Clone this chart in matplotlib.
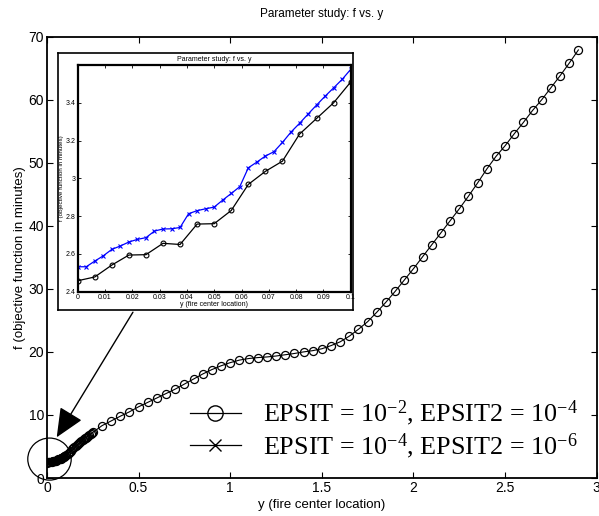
import numpy as np
import matplotlib
matplotlib.use('Agg')
import matplotlib.pyplot as plt
from matplotlib.lines import Line2D
from matplotlib.patches import Ellipse

plt.rcParams['font.family'] = ['Liberation Sans', 'DejaVu Sans']
plt.rcParams['mathtext.fontset'] = 'custom'
plt.rcParams['mathtext.rm'] = 'Liberation Serif'
plt.rcParams['mathtext.default'] = 'regular'

# EPSIT = 1e-2 run: fine sampling (step 0.00625) from 0 to 0.25
y_fine = np.linspace(0, 0.25, 41)
f_fine = [2.458, 2.478, 2.541, 2.594, 2.596, 2.656, 2.650, 2.758, 2.760,
          2.830, 2.968, 3.037, 3.091, 3.234, 3.317, 3.400, 3.510,
          3.68, 3.85, 4.02, 4.19, 4.36, 4.53, 4.70, 4.87, 5.03, 5.20,
          5.36, 5.52, 5.68, 5.83, 5.98, 6.13, 6.28, 6.42, 6.56, 6.70,
          6.84, 6.97, 7.10, 7.23]

# coarse sampling (step 0.05) from 0.3 to 2.9
y_coarse = np.round(np.arange(0.30, 2.9001, 0.05), 2)
f_coarse = [8.3, 9.05, 9.8, 10.5, 11.3, 12.0, 12.7, 13.4, 14.1, 14.9,
            15.7, 16.5, 17.2, 17.8, 18.3, 18.7, 18.95, 19.1, 19.2, 19.35,
            19.55, 19.75, 20.0, 20.2, 20.5, 21.0, 21.6, 22.5, 23.6, 24.8,
            26.3, 27.9, 29.6, 31.4, 33.2, 35.1, 37.0, 38.9, 40.8, 42.7,
            44.7, 46.8, 49.0, 51.0, 52.7, 54.6, 56.4, 58.3, 60.0, 61.9,
            63.8, 65.8, 67.9]

# EPSIT = 1e-4 run, 0 to 0.1 (step 0.003125)
y_x = np.linspace(0, 0.1, 33)
f_x = [2.532, 2.532, 2.562, 2.590, 2.624, 2.642, 2.663, 2.677, 2.686,
       2.721, 2.732, 2.733, 2.740, 2.813, 2.829, 2.839, 2.848, 2.885,
       2.920, 2.956, 3.056, 3.086, 3.118, 3.141, 3.190, 3.245, 3.291,
       3.340, 3.388, 3.435, 3.479, 3.524, 3.577]

labels = ['EPSIT = 10$^{-2}$, EPSIT2 = 10$^{-4}$',
          'EPSIT = 10$^{-4}$, EPSIT2 = 10$^{-6}$']

y_o = np.concatenate([y_fine, y_coarse])
f_o = np.concatenate([f_fine, f_coarse])

W, H = 599, 516
fig = plt.figure(figsize=(W / 100, H / 100), dpi=100)

ax = fig.add_axes([47 / W, 1 - 478 / H, 549.7 / W, (478 - 36.7) / H])
ax.plot(y_x, f_x, 'k-', marker='x', ms=4.5, lw=0.8)
ax.plot(y_o, f_o, 'k-', marker='o', ms=5.8, mfc='none', mew=0.9, lw=0.8)
ax.set_xlim(0, 3)
ax.set_ylim(0, 70)
ax.set_xticks(np.arange(0, 3.01, 0.5))
ax.set_xticklabels(['0', '0.5', '1', '1.5', '2', '2.5', '3'])
ax.set_yticks(np.arange(0, 71, 10))
ax.tick_params(direction='in', top=True, right=True, length=4, width=0.8,
               labelsize=10, pad=2)
for s in ax.spines.values():
    s.set_linewidth(1.3)
ax.set_title('Parameter study: f vs. y', fontsize=8.5, pad=14)
ax.set_xlabel('y (fire center location)', fontsize=9.5, labelpad=3)
ax.set_ylabel('f (objective function in minutes)', fontsize=9.5, labelpad=2)

handles = [Line2D([], [], color='k', lw=0.9, marker='o', ms=11, mfc='none', mew=1.0),
           Line2D([], [], color='k', lw=0.9, marker='x', ms=9, mew=1.0)]
ax.legend(handles, labels, loc='lower left', bbox_to_anchor=(0.236, 0.01),
          frameon=False, prop={'family': 'Liberation Serif', 'size': 18.8},
          handlelength=1.95, handletextpad=0.85, labelspacing=0.1, borderpad=0)

# zoom circle and arrow
ax.add_patch(Ellipse((0.0136, 3.0), 0.237, 6.67, fill=False, color='k',
                     lw=0.9, clip_on=False))
ax.annotate('', xy=(0.053, 6.46), xytext=(0.469, 26.3),
            arrowprops=dict(arrowstyle='-|>,head_length=1.8,head_width=0.8',
                            color='k', lw=1.0, shrinkA=0, shrinkB=0))

# pasted inset figure
frame = fig.add_axes([58 / W, 1 - 310 / H, 295 / W, 257 / H])
frame.set_xticks([])
frame.set_yticks([])
frame.set_facecolor('white')
for s in frame.spines.values():
    s.set_linewidth(1.2)

ins = fig.add_axes([77.7 / W, 1 - 291.7 / H, 273 / W, 226.7 / H])
ins.plot(y_fine[:17], f_fine[:17], 'k-', marker='o', ms=3.5, mfc='none',
         mew=0.8, lw=0.9)
ins.plot(y_x, f_x, '-', color='#0000ff', marker='x', ms=3.5, mew=0.8, lw=0.9)
ins.set_xlim(0, 0.1)
ins.set_ylim(2.4, 3.6)
ins.set_xticks(np.arange(0, 0.1001, 0.01))
ins.set_xticklabels(['0', '0.01', '0.02', '0.03', '0.04', '0.05', '0.06',
                     '0.07', '0.08', '0.09', '0.1'])
ins.set_yticks([2.4, 2.6, 2.8, 3.0, 3.2, 3.4])
ins.set_yticklabels(['2.4', '2.6', '2.8', '3', '3.2', '3.4'])
ins.tick_params(direction='in', top=True, right=True, length=2.5, width=0.6,
                labelsize=5, pad=1.5)
for s in ins.spines.values():
    s.set_linewidth(1.6)
ins.set_title('Parameter study: f vs. y', fontsize=5, pad=3)
ins.set_xlabel('y (fire center location)', fontsize=5, labelpad=0.5)
ins.set_ylabel('f (objective function in minutes)', fontsize=4.5, labelpad=1)

fig.savefig('out.png', dpi=100)
